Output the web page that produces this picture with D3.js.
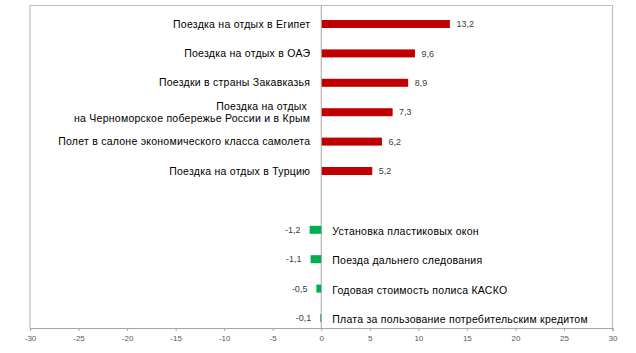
<!DOCTYPE html>
<html lang="ru">
<head>
<meta charset="UTF-8" />
<title>Изменение цен</title>
<script src="https://cdn.jsdelivr.net/npm/d3@7"></script>
<style>
  html, body { margin: 0; padding: 0; background: #fff; }
  svg { display: block; font-family: "Liberation Sans", Arial, sans-serif; }
</style>
</head>
<body>
<script>
  // Data
  const categories = [
    "Поездка на отдых в Египет",
    "Поездка на отдых в ОАЭ",
    "Поездки в страны Закавказья",
    "Поездка на отдых\u00a0\nна Черноморское побережье России и в Крым",
    "Полет в салоне экономического класса самолета",
    "Поездка на отдых в Турцию",
    "Установка пластиковых окон",
    "Поезда дальнего следования",
    "Годовая стоимость полиса КАСКО",
    "Плата за пользование потребительским кредитом"
  ];
  const values = [13.2, 9.6, 8.9, 7.3, 6.2, 5.2, -1.2, -1.1, -0.5, -0.1];
  const xTicks = [-30, -25, -20, -15, -10, -5, 0, 5, 10, 15, 20, 25, 30];

  const width = 636, height = 353;
  const plot = { left: 30, right: 612.5, top: 5.5, bottom: 328 };

  const svg = d3.select("body").append("svg")
    .attr("width", width)
    .attr("height", height);

  const x = d3.scaleLinear().domain([-30, 30]).range([plot.left, plot.right]);

  // one empty slot between the rising and the falling items
  const slots = categories.slice(0, 6).concat(["gap"], categories.slice(6));
  const y = d3.scalePoint().domain(slots).range([24, 318]);
  const barH = 8;

  // hyphen instead of unicode minus, comma as decimal mark
  const hy = s => s.replace("\u2212", "-");
  const fmt = v => hy(d3.format(".1f")(v)).replace(".", ",");

  // frame
  svg.append("path")
    .attr("d", `M${plot.left},${plot.bottom}V${plot.top}H${plot.right}V${plot.bottom}`)
    .attr("fill", "none")
    .attr("stroke", "#bfbfbf")
    .attr("stroke-width", 1.2);

  // zero line
  svg.append("line")
    .attr("x1", x(0)).attr("x2", x(0))
    .attr("y1", plot.top).attr("y2", plot.bottom)
    .attr("stroke", "#a6a6a6");

  // bottom axis
  const axis = svg.append("g")
    .attr("transform", `translate(0,${plot.bottom})`)
    .call(d3.axisBottom(x).tickValues(xTicks).tickSize(3).tickPadding(4)
      .tickFormat(d => hy(d3.format("d")(d))));
  axis.select(".domain").attr("stroke", "#a6a6a6").attr("stroke-width", 1.2);
  axis.selectAll(".tick line").attr("stroke", "#a6a6a6");
  axis.selectAll(".tick text")
    .attr("fill", "#595959")
    .style("font-size", "8px")
    .style("font-family", "\"Liberation Sans\", Arial, sans-serif");

  const data = categories.map((c, i) => ({ cat: c, v: values[i] }));

  // bars
  svg.append("g").selectAll("rect")
    .data(data)
    .join("rect")
    .attr("x", d => x(Math.min(0, d.v)) + (d.v > 0 ? 0.5 : 0))
    .attr("y", d => y(d.cat) - barH / 2)
    .attr("width", d => Math.abs(x(d.v) - x(0)))
    .attr("height", barH)
    .attr("fill", d => d.v > 0 ? "#c00000" : "#00b050");

  // value labels
  svg.append("g").selectAll("text")
    .data(data)
    .join("text")
    .attr("x", d => d.v > 0 ? x(d.v) + 7 : x(d.v) - 9)
    .attr("y", d => y(d.cat))
    .attr("dy", "0.35em")
    .attr("text-anchor", d => d.v > 0 ? "start" : "end")
    .attr("fill", "#404040")
    .style("font-size", "9px")
    .text(d => fmt(d.v));

  // category labels
  const labels = svg.append("g").selectAll("text")
    .data(data)
    .join("text")
    .attr("x", d => d.v > 0 ? x(0) - 11 : x(0) + 11)
    .attr("y", d => y(d.cat) + (d.v > 0 ? 0 : 1.5))
    .attr("text-anchor", d => d.v > 0 ? "end" : "start")
    .attr("fill", "#000")
    .style("font-size", "10.5px")
    .style("letter-spacing", "0.25px");

  labels.each(function(d) {
    const lines = d.cat.split("\n");
    const t = d3.select(this);
    lines.forEach((ln, i) => {
      t.append("tspan")
        .attr("x", t.attr("x"))
        .attr("dy", i === 0 ? (0.35 - (lines.length - 1) * 0.55) + "em" : "1.1em")
        .text(ln);
    });
  });
</script>
</body>
</html>
